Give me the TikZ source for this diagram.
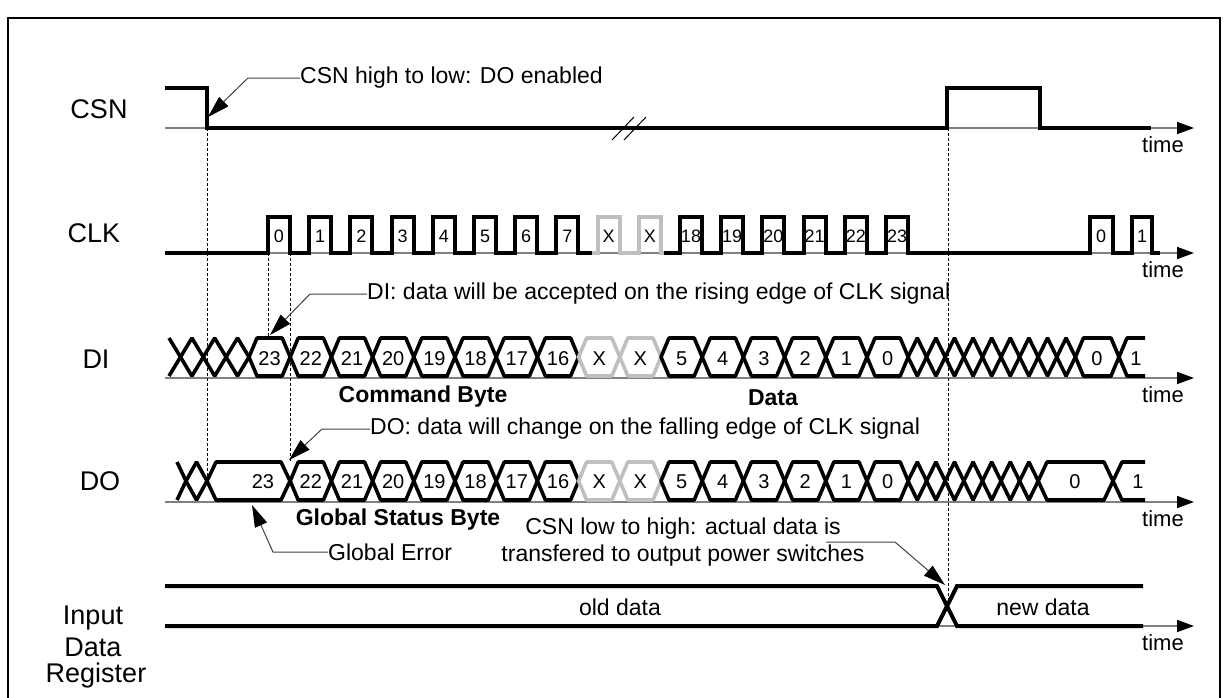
\documentclass[tikz,border=0pt]{standalone}
\usepackage{fontspec}
\setmainfont{Liberation Sans}
\usetikzlibrary{arrows.meta}

\begin{document}
\begin{tikzpicture}[x=1pt, y=-1pt,
  axis/.style={draw=gray, line width=1.6pt, -{Triangle[length=17pt,width=12pt,color=black]}},
  sig/.style={line width=4pt, line join=miter},
  ghost/.style={sig, draw=black!25},
  bus/.style={line width=3.6pt, line join=bevel},
  guide/.style={line width=0.8pt, dash pattern=on 3pt off 2pt},
  callout/.style={draw=black!75, line width=1pt, -{Triangle[length=22pt,width=13pt,color=black]}},
  lbl/.style={inner sep=0pt, font=\fontsize{27}{30}\selectfont, align=center},
  note/.style={inner sep=0pt, font=\fontsize{23}{27}\selectfont, align=center},
  tm/.style={inner sep=0pt, font=\fontsize{22}{24}\selectfont},
  byte/.style={inner sep=0pt, font=\bfseries\fontsize{23}{25}\selectfont},
  num/.style={inner sep=0pt, font=\fontsize{20}{22}\selectfont},
  cnum/.style={inner sep=0pt, font=\fontsize{18}{20}\selectfont}
]
\useasboundingbox (0,0) rectangle (1226,697);

%% Frame
\draw[line width=2.5pt] (8,18) rectangle (1220,720);

%% Row labels
\node[lbl] (csnlbl) at (99,109) {CSN};
\node[lbl] (clklbl) at (94,233) {CLK};
\node[lbl] (dilbl) at (96,359) {DI};
\node[lbl] (dolbl) at (100,481) {DO};
\node[lbl] (idrlbl1) at (93,618) {Input};
\node[lbl] (idrlbl2) at (93,647) {Data};
\node[lbl] (idrlbl3) at (96,676) {Register};

%% Time axes
\foreach \y/\n in {128/csn, 253/clk, 378/di, 502/do, 626/idr} {
  \draw[axis] (165,\y) -- (1194,\y);
  \node[tm] (time\n) at (1163,\y+17) {time};
}

%% CSN
\draw[sig] (165,88) -- (207,88) -- (207,128) -- (947,128) -- (947,88) -- (1040,88) -- (1040,128) -- (1151,128);
\draw[line width=1pt] (612,140) -- (634,117) (624,140) -- (646,117);

%% CLK
\draw[sig] (165,253) \foreach \k in {0,...,7} { -- ({268+41.2*\k},253) -- ++(0,-36) -- ++(22,0) -- ++(0,36) } -- (592,253);
\draw[ghost] (592,253) \foreach \k in {8,9} { -- ({268+41.2*\k},253) -- ++(0,-36) -- ++(22,0) -- ++(0,36) } -- (664,253);
\draw[sig] (664,253) \foreach \k in {10,...,15} { -- ({268+41.2*\k},253) -- ++(0,-36) -- ++(22,0) -- ++(0,36) }
  -- (1090,253) -- (1090,217) -- (1113,217) -- (1113,253) -- (1132,253) -- (1132,217) -- (1152,217) -- (1152,253) -- (1160,253);
\foreach \k/\t in {0/0,1/1,2/2,3/3,4/4,5/5,6/6,7/7,8/X,9/X,10/18,11/19,12/20,13/21,14/22,15/23}
  \node[cnum] (clk\k) at ({279+41.2*\k},236) {\t};
\node[cnum] (clkz) at (1101,236) {0};
\node[cnum] (clko) at (1142,236) {1};

%% DI
\draw[bus] (169,338) -- (180.5,357) -- (169,376);
\foreach \a/\b in {180.5/203.3, 203.3/226.1, 226.1/249, 908/926.6, 926.6/945.2, 945.2/963.8, 963.8/982.4, 982.4/1001, 1001/1019.6, 1019.6/1038.2, 1038.2/1056.8, 1056.8/1075.4}
  \draw[bus] (\a,357) -- ({(\a+\b)/2},338) -- (\b,357) -- ({(\a+\b)/2},376) -- cycle;
\foreach \k/\t in {0/23,1/22,2/21,3/20,4/19,5/18,6/17,7/16,8/X,9/X,10/5,11/4,12/3,13/2,14/1,15/0} {
  \pgfmathsetmacro{\a}{249+41.2*\k}
  \pgfmathsetmacro{\b}{\a+41.2}
  \ifnum\k=8 \def\bc{black!25}\else\ifnum\k=9 \def\bc{black!25}\else\def\bc{black}\fi\fi
  \draw[bus, draw=\bc] (\a,357) -- (\a+8,338) -- (\b-8,338) -- (\b,357) -- (\b-8,376) -- (\a+8,376) -- cycle;
  \node[num] (di\k) at ({(\a+\b)/2},359) {\t};
}
\draw[bus] (1075.4,357) -- (1083.4,338) -- (1111,338) -- (1119,357) -- (1111,376) -- (1083.4,376) -- cycle;
\draw[bus] (1145,338) -- (1127,338) -- (1119,357) -- (1127,376) -- (1145,376);
\node[num] (dizero) at (1097,359) {0};
\node[num] (dione) at (1136,359) {1};

%% DO
\draw[bus] (177,462) -- (186,481) -- (177,500);
\draw[bus] (186,481) -- (196.5,462) -- (207,481) -- (196.5,500) -- cycle;
\draw[bus] (207,481) -- (216,462) -- (281,462) -- (290,481) -- (281,500) -- (216,500) -- cycle;
\node[num] (do23) at (263,482) {23};
\foreach \k/\t in {1/22,2/21,3/20,4/19,5/18,6/17,7/16,8/X,9/X,10/5,11/4,12/3,13/2,14/1,15/0} {
  \pgfmathsetmacro{\a}{249+41.2*\k}
  \pgfmathsetmacro{\b}{\a+41.2}
  \ifnum\k=8 \def\bc{black!25}\else\ifnum\k=9 \def\bc{black!25}\else\def\bc{black}\fi\fi
  \draw[bus, draw=\bc] (\a,481) -- (\a+8,462) -- (\b-8,462) -- (\b,481) -- (\b-8,500) -- (\a+8,500) -- cycle;
  \node[num] (do\k) at ({(\a+\b)/2},482) {\t};
}
\foreach \a/\b in {908/926.6, 926.6/945.2, 945.2/963.8, 963.8/982.4, 982.4/1001, 1001/1019.6, 1019.6/1038.2}
  \draw[bus] (\a,481) -- ({(\a+\b)/2},462) -- (\b,481) -- ({(\a+\b)/2},500) -- cycle;
\draw[bus] (1038.2,481) -- (1047,462) -- (1104,462) -- (1113,481) -- (1104,500) -- (1047,500) -- cycle;
\draw[bus] (1145,462) -- (1122,462) -- (1113,481) -- (1122,500) -- (1145,500);
\node[num] (dozero) at (1075,482) {0};
\node[num] (doone) at (1138,482) {1};

%% Input data register
\draw[sig] (165,586) -- (937,586) -- (957,626) -- (1143,626);
\draw[sig] (165,626) -- (937,626) -- (957,586) -- (1143,586);
\node[note] (olddata) at (620,607) {old data};
\node[note] (newdata) at (1043,607) {new data};

%% Guide lines
\draw[guide] (207,128) -- (207,481);
\draw[guide] (268,253) -- (268,338);
\draw[guide] (290,253) -- (290,462);
\draw[guide] (948,128) -- (948,606);

%% Byte names
\node[byte] (cmdbyte) at (423,397) {Command Byte};
\node[byte] (databyte) at (773,398) {Data};
\node[byte] (statbyte) at (398,520) {Global Status Byte};

%% Callouts
\node[note, anchor=west] (csnfall) at (300,78) {CSN high to low: DO enabled};
\coordinate (csnfalltip) at (208,117);
\draw[callout] (csnfall.west) -- ++(-52,0) -- (csnfalltip);

\node[note, anchor=west] (dinote) at (367,294) {DI: data will be accepted on the rising edge of CLK signal};
\coordinate (ditip) at (270,335);
\draw[callout] (dinote.west) -- ++(-57,0) -- (ditip);

\node[note, anchor=west] (donote) at (370,429) {DO: data will change on the falling edge of CLK signal};
\coordinate (dotip) at (289,460);
\draw[callout] (donote.west) -- ++(-48,0) -- (dotip);

\node[note, anchor=west] (globerr) at (328,552) {Global Error};
\coordinate (globerrtip) at (252,505);
\draw[callout] (globerr.west) -- ++(-55,0) -- (globerrtip);

\node[note] (csnrise) at (683,542) {CSN low to high: actual data is\\transfered to output power switches};
\coordinate (csnrisetip) at (945,585);
\draw[callout] (826,542) -- (895,542) -- (csnrisetip);
\end{tikzpicture}
\end{document}
